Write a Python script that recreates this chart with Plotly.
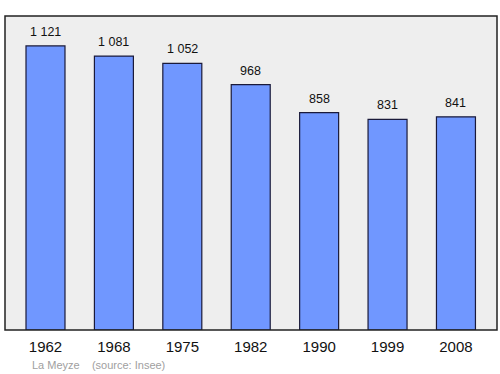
import plotly.graph_objects as go

years = ["1962", "1968", "1975", "1982", "1990", "1999", "2008"]
population = [1121, 1081, 1052, 968, 858, 831, 841]
labels = ["1 121", "1 081", "1 052", "968", "858", "831", "841"]

FONT = "Liberation Sans, Arial, sans-serif"

fig = go.Figure()
fig.add_trace(go.Bar(
    x=years, y=population, width=0.57,
    marker=dict(color="#7097ff", line=dict(color="#1a1a3a", width=1.2)),
    hoverinfo="skip",
))
for i, (v, t) in enumerate(zip(population, labels)):
    fig.add_annotation(x=i, y=v, text=t, showarrow=False, yanchor="bottom",
                       yshift=5, font=dict(family=FONT, size=12.5, color="#111"))

fig.add_annotation(xref="paper", yref="paper", x=0.05, y=-0.086, xanchor="left", yanchor="top",
                   text="La Meyze &nbsp;&nbsp;&nbsp;(source: Insee)", showarrow=False,
                   font=dict(family=FONT, size=11, color="#a0a0a0"))

fig.update_layout(
    width=500, height=374,
    margin=dict(l=5, r=3, t=16, b=44),
    paper_bgcolor="white", plot_bgcolor="#eeeeee",
    showlegend=False,
    xaxis=dict(type="category", range=[-0.592, 6.6], showgrid=False, zeroline=False,
               ticks="outside", ticklen=3, tickcolor="rgba(0,0,0,0)", showline=False,
               tickfont=dict(family=FONT, size=15, color="#111")),
    yaxis=dict(range=[0, 1239], showgrid=False, zeroline=False, showticklabels=False,
               ticks="", showline=False),
    shapes=[dict(type="rect", xref="paper", yref="paper", x0=0, y0=0, x1=1, y1=1,
                 line=dict(color="#222", width=1.5), fillcolor="rgba(0,0,0,0)", layer="above")],
)
fig.write_html("out.html")
